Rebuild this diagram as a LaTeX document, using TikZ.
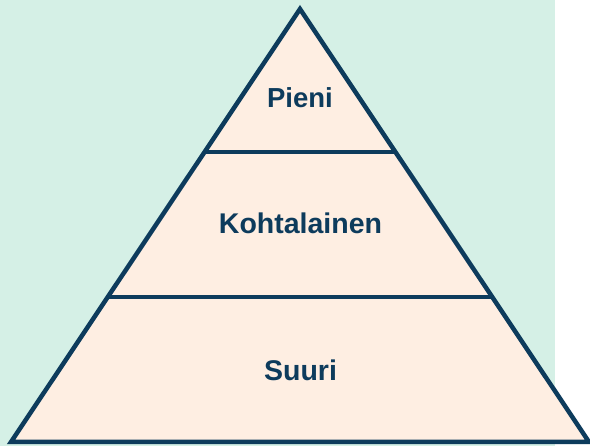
\documentclass[tikz,border=0pt]{standalone}
\usepackage{fontspec}
\setmainfont{Liberation Sans}
\definecolor{mint}{HTML}{D5F0E6}
\definecolor{peach}{HTML}{FEEEE2}
\definecolor{navy}{HTML}{0D3B5C}
\begin{document}
\begin{tikzpicture}[x=1pt,y=-1pt,
  edge/.style={draw=navy,line width=4.5pt,line join=miter},
  lbl/.style={text=navy,font=\bfseries\fontsize{28.5}{32}\selectfont,inner sep=0pt,anchor=center}]
\useasboundingbox (0,0) rectangle (590,446);
\fill[white] (0,0) rectangle (590,446);
\fill[mint] (0,0) rectangle (555,446);
\coordinate (A) at (300,9);
\coordinate (BL) at (11,442);
\coordinate (BR) at (589,442);
\coordinate (L1) at (204,152);
\coordinate (R1) at (396,152);
\coordinate (L2) at (107,297);
\coordinate (R2) at (493,297);
\fill[peach] (A) -- (BR) -- (BL) -- cycle;
\draw[edge] (L1) -- (R1);
\draw[edge] (L2) -- (R2);
\draw[edge] (A) -- (BR) -- (BL) -- cycle;
\node[lbl,font=\bfseries\fontsize{27.5}{32}\selectfont] (pieni) at (300,98) {Pieni};
\node[lbl] (kohta) at (300.5,223) {Kohtalainen};
\node[lbl] (suuri) at (300.5,370) {Suuri};
\end{tikzpicture}
\end{document}
